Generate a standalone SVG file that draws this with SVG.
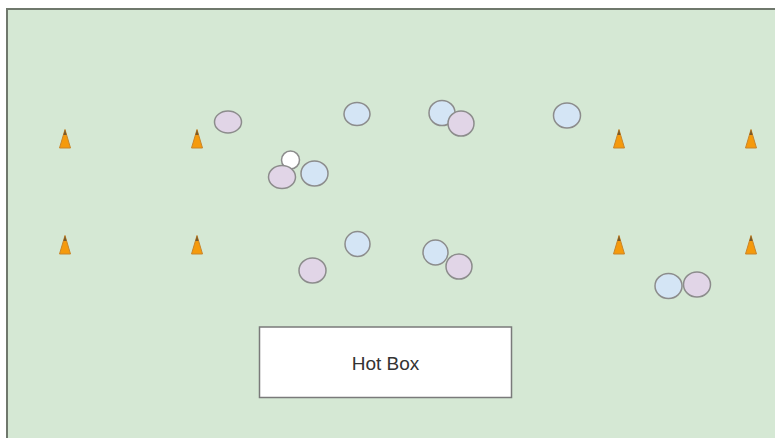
<svg xmlns="http://www.w3.org/2000/svg" width="775" height="438" viewBox="0 0 775 438">
<defs>
<style>
.field{fill:#d5e8d4;stroke:#6f786c;stroke-width:2}
.cone{fill:#f59a0c;stroke:#c9852a;stroke-width:1;stroke-linejoin:round}
.tip{fill:#7a5a2a}
.p{fill:#e1d5e7;stroke:#8c8c8c;stroke-width:1.5}
.b{fill:#d4e5f5;stroke:#8c8c8c;stroke-width:1.5}
.ball{fill:#ffffff;stroke:#8c8c8c;stroke-width:1.5}
.box{fill:#ffffff;stroke:#7a7a7a;stroke-width:1.5}
.lbl{font-family:"Liberation Sans",Arial,sans-serif;font-size:19px;fill:#333333}
</style>
<g id="coneShape">
<path class="cone" d="M0,-9.5 L5.5,9 L-5.5,9 Z"/>
<path class="tip" d="M0,-9.5 L1.6,-4 L-1.6,-4 Z"/>
</g>
</defs>
<g id="field"><rect class="field" x="7" y="9" width="820" height="480"/></g>
<g id="cones">
<use id="cone1" href="#coneShape" x="65" y="139"/>
<use id="cone2" href="#coneShape" x="197" y="139"/>
<use id="cone3" href="#coneShape" x="619" y="139"/>
<use id="cone4" href="#coneShape" x="751" y="139"/>
<use id="cone5" href="#coneShape" x="65" y="245"/>
<use id="cone6" href="#coneShape" x="197" y="245"/>
<use id="cone7" href="#coneShape" x="619" y="245"/>
<use id="cone8" href="#coneShape" x="751" y="245"/>
</g>
<g id="players">
<ellipse id="p1" class="p" cx="228" cy="122" rx="13.5" ry="11"/>
<ellipse id="b1" class="b" cx="357" cy="114" rx="13" ry="11.5"/>
<ellipse id="b2" class="b" cx="442" cy="113" rx="13" ry="12.5"/>
<ellipse id="p2" class="p" cx="461" cy="123.5" rx="13" ry="12.5"/>
<ellipse id="b3" class="b" cx="567" cy="115.5" rx="13.5" ry="12.5"/>
<circle id="ball" class="ball" cx="290.5" cy="160" r="9"/>
<ellipse id="p3" class="p" cx="282" cy="177" rx="13.5" ry="11.5"/>
<ellipse id="b4" class="b" cx="314.5" cy="173.5" rx="13.5" ry="12.5"/>
<ellipse id="b5" class="b" cx="357.5" cy="244" rx="12.5" ry="12.5"/>
<ellipse id="p4" class="p" cx="312.5" cy="270.5" rx="13.5" ry="12.5"/>
<ellipse id="b6" class="b" cx="435.5" cy="252.5" rx="12.5" ry="12.5"/>
<ellipse id="p5" class="p" cx="459" cy="266.5" rx="13" ry="12.5"/>
<ellipse id="b7" class="b" cx="668.5" cy="286" rx="13.5" ry="12.5"/>
<ellipse id="p6" class="p" cx="697" cy="284.5" rx="13.5" ry="12.5"/>
</g>
<g id="hotbox">
<rect class="box" x="259.5" y="327" width="252" height="70.5"/>
<text class="lbl" x="385.5" y="369.5" text-anchor="middle">Hot Box</text>
</g>
<g id="connectors"/>
</svg>
